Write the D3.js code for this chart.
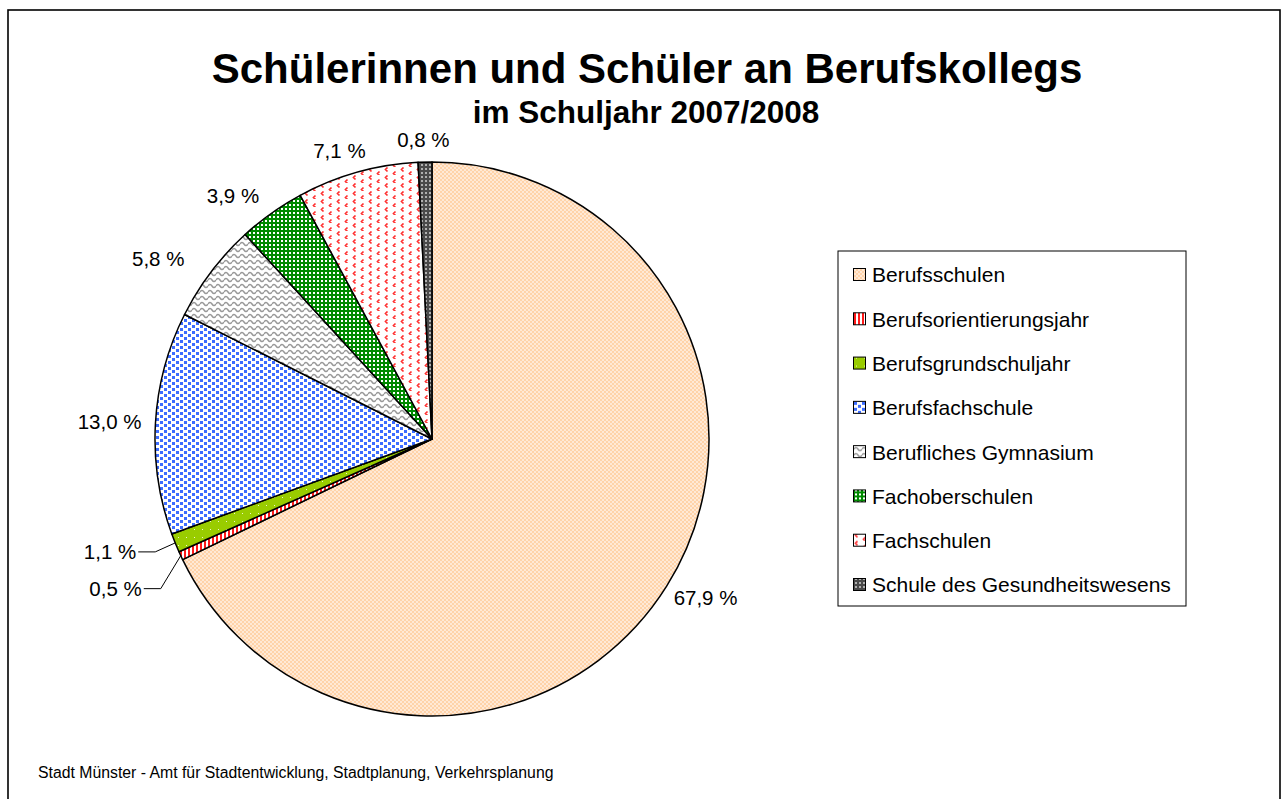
<!DOCTYPE html>
<html>
<head>
<meta charset="utf-8">
<script src="https://cdn.jsdelivr.net/npm/d3@7"></script>
<style>
  body { margin: 0; background: #fff; }
  svg { display: block; font-family: Arial, "Liberation Sans", sans-serif; }
</style>
</head>
<body>
<svg id="chart" width="1282" height="799"></svg>
<script>
"use strict";

const title = 'Schülerinnen und Schüler an Berufskollegs'
const subtitle = 'im Schuljahr 2007/2008'
const source = 'Stadt Münster - Amt für Stadtentwicklung, Stadtplanung, Verkehrsplanung'

const categories = [
   'Berufsschulen',
   'Berufsorientierungsjahr',
   'Berufsgrundschuljahr',
   'Berufsfachschule',
   'Berufliches Gymnasium',
   'Fachoberschulen',
   'Fachschulen',
   'Schule des Gesundheitswesens'
]
const shares = [67.9, 0.5, 1.1, 13.0, 5.8, 3.9, 7.1, 0.8]
const patternIds = ['p-bs', 'p-boj', 'p-bgj', 'p-bfs', 'p-gym', 'p-fos', 'p-fs', 'p-gw']

const fmt = v => d3.format('.1f')(v).replace('.', ',') + ' %'

const width = 1282
const height = 799
const cx = 432
const cy = 439
const radius = 277

const svg = d3.select('#chart')
const defs = svg.append('defs')

// fill patterns, roughly like the old office hatchings
function pattern(id, w, h) {
   return defs.append('pattern')
      .attr('id', id)
      .attr('patternUnits', 'userSpaceOnUse')
      .attr('width', w)
      .attr('height', h)
}

let p = pattern('p-bs', 4, 4)
p.append('rect').attr('width', 4).attr('height', 4).attr('fill', '#ffe9d6')
p.append('rect').attr('width', 2).attr('height', 2).attr('fill', '#ffd3a9')
p.append('rect').attr('x', 2).attr('y', 2).attr('width', 2).attr('height', 2).attr('fill', '#ffd3a9')

p = pattern('p-boj', 4, 4)
p.append('rect').attr('width', 4).attr('height', 4).attr('fill', '#fff')
p.append('rect').attr('width', 2).attr('height', 4).attr('fill', '#ff1a1a')

p = pattern('p-bgj', 8, 8)
p.append('rect').attr('width', 8).attr('height', 8).attr('fill', '#99cc00')
p.append('rect').attr('x', 2).attr('y', 2).attr('width', 1).attr('height', 1).attr('fill', '#eef7cc')

p = pattern('p-bfs', 8, 6)
p.append('rect').attr('width', 8).attr('height', 6).attr('fill', '#fff')
p.append('rect').attr('x', 0).attr('y', 0).attr('width', 3).attr('height', 3).attr('fill', '#3c6cff')
p.append('rect').attr('x', 4).attr('y', 3).attr('width', 3).attr('height', 3).attr('fill', '#3c6cff')

p = pattern('p-gym', 8, 6)
p.append('rect').attr('width', 8).attr('height', 6).attr('fill', '#fff')
p.append('path')
   .attr('d', 'M0,3 Q2,0 4,3 T8,3')
   .attr('fill', 'none')
   .attr('stroke', '#999')
   .attr('stroke-width', 1.5)

p = pattern('p-fos', 4, 4)
p.append('rect').attr('width', 4).attr('height', 4).attr('fill', '#008a00')
p.append('rect').attr('x', 1).attr('y', 1).attr('width', 2).attr('height', 2).attr('fill', '#fff')

p = pattern('p-fs', 16, 8)
p.append('rect').attr('width', 16).attr('height', 8).attr('fill', '#fff')
p.append('path')
   .attr('d', 'M3.5,0.5 L1.5,2.5 L3.5,4.5 M11.5,4.5 L9.5,6.5 L11.5,8.5')
   .attr('fill', 'none')
   .attr('stroke', '#ff3030')
   .attr('stroke-width', 1.7)

p = pattern('p-gw', 4, 4)
p.append('rect').attr('width', 4).attr('height', 4).attr('fill', '#4a4a4a')
p.append('rect').attr('x', 1).attr('y', 1).attr('width', 2).attr('height', 2).attr('fill', '#b0b0b0')

// frame
svg.append('rect')
   .attr('x', 8).attr('y', 10)
   .attr('width', width - 10).attr('height', height)
   .attr('fill', 'none')
   .attr('stroke', '#000')
   .attr('stroke-width', 1.6)

svg.append('text')
   .attr('x', 647).attr('y', 83)
   .attr('text-anchor', 'middle')
   .attr('font-size', 42)
   .attr('font-weight', 'bold')
   .text(title)

svg.append('text')
   .attr('x', 646).attr('y', 123)
   .attr('text-anchor', 'middle')
   .attr('font-size', 31.5)
   .attr('font-weight', 'bold')
   .text(subtitle)

svg.append('text')
   .attr('x', 38).attr('y', 778)
   .attr('font-size', 15.8)
   .text(source)

const data = categories.map((c, i) => ({ name: c, value: shares[i], fill: patternIds[i] }))

const pie = d3.pie()
   .sort(null)
   .value(d => d.value)

const arc = d3.arc()
   .innerRadius(0)
   .outerRadius(radius)

const arcs = pie(data)

let g = svg.append('g')
   .attr('transform', `translate(${cx},${cy})`)

g.selectAll('path')
   .data(arcs)
   .enter().append('path')
      .attr('d', arc)
      .attr('fill', d => `url(#${d.data.fill})`)
      .attr('stroke', '#000')
      .attr('stroke-width', 1.5)
      .attr('stroke-linejoin', 'round')

// labels; the two thin slices get pulled-out labels with leader lines
const leaderDrop = { 'Berufsorientierungsjahr': 33, 'Berufsgrundschuljahr': 9 }
const pad = 14

arcs.forEach(d => {
   const a = (d.startAngle + d.endAngle) / 2
   const ux = Math.sin(a)
   const uy = -Math.cos(a)
   const label = g.append('text')
      .attr('font-size', 20.5)
      .attr('dy', '0.35em')
      .text(fmt(d.data.value))
   const w = label.node().getComputedTextLength()
   const h = 16

   if (d.data.name in leaderDrop) {
      const px = ux * radius
      const py = uy * radius
      const ex = px - 20
      const ey = py + leaderDrop[d.data.name]
      g.append('polyline')
         .attr('points', [[px, py], [ex, ey], [ex - 17, ey]].map(q => q.join(',')).join(' '))
         .attr('fill', 'none')
         .attr('stroke', '#000')
         .attr('stroke-width', 1)
      label.attr('x', ex - 19).attr('y', ey).attr('text-anchor', 'end')
   } else {
      // upper-left labels are pushed further out sideways, as in the original
      const kx = a > 5.06 ? 1 : 0.5
      const lx = ux * (radius + pad) + ux * w * kx
      const ly = uy * (radius + pad) + uy * h / 2
      label.attr('x', lx).attr('y', ly).attr('text-anchor', 'middle')
   }
})

// legend
const legendX = 838
const legendY = 251
const legendW = 348
const legendH = 355

let legend = svg.append('g')
   .attr('transform', `translate(${legendX},${legendY})`)

legend.append('rect')
   .attr('width', legendW)
   .attr('height', legendH)
   .attr('fill', '#fff')
   .attr('stroke', '#000')
   .attr('stroke-width', 1)

const rowY = d3.scalePoint()
   .domain(categories)
   .range([24, 334])

let rows = legend.selectAll('g.row')
   .data(data)
   .enter().append('g')
      .attr('class', 'row')
      .attr('transform', d => `translate(0,${rowY(d.name)})`)

rows.append('rect')
   .attr('x', 15.5).attr('y', -6.5)
   .attr('width', 12).attr('height', 12)
   .attr('fill', d => `url(#${d.fill})`)
   .attr('stroke', '#000')
   .attr('stroke-width', 1)

rows.append('text')
   .attr('x', 34)
   .attr('y', 0)
   .attr('dy', '0.35em')
   .attr('font-size', 21)
   .text(d => d.name)
</script>
</body>
</html>
